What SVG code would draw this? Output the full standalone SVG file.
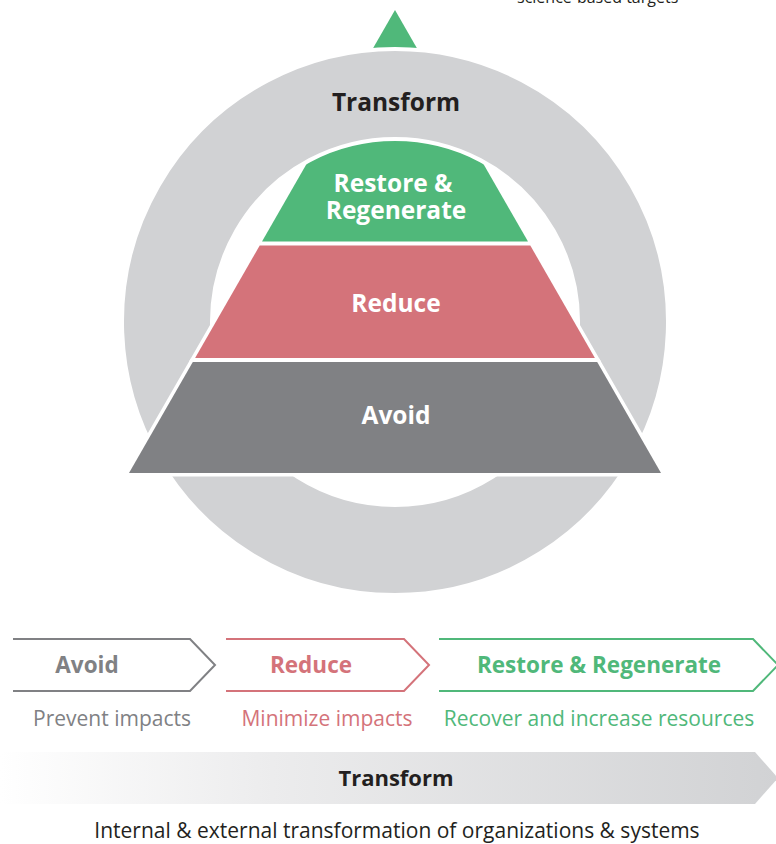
<svg xmlns="http://www.w3.org/2000/svg" width="776" height="844" viewBox="0 0 776 844">
<defs>
<style>
.t{font-family:"Open Sans","Noto Sans",sans-serif}
.b{font-weight:700}
.band{stroke:#fff;stroke-width:7;stroke-linejoin:miter;paint-order:stroke}
.chev{fill:none;stroke-width:2}
</style>
<linearGradient id="tg" x1="0" y1="0" x2="1" y2="0">
<stop offset="0" stop-color="#ffffff"/>
<stop offset="0.35" stop-color="#ececed"/>
<stop offset="1" stop-color="#d1d2d4"/>
</linearGradient>
</defs>
<rect width="776" height="844" fill="#fff"/>
<text class="t" x="517" y="3" font-size="16" fill="#231f20">science-based targets</text>
<g id="restore">
<polygon points="395,10 528,241.5 262,241.5" fill="#50b87a"/>
</g>
<g id="ring">
<path d="M395,49 A273,273 0 1 1 394.99,49 Z M395,139 A183,183 0 1 0 395.01,139 Z" fill="#d1d2d4" fill-rule="evenodd" stroke="#fff" stroke-width="4"/>
<text class="t b" x="396" y="111" font-size="24.5" text-anchor="middle" fill="#231f20">Transform</text>
</g>
<g id="reduce">
<polygon class="band" points="259.7,245.5 530.3,245.5 594.9,358 195.1,358" fill="#d4737a"/>
<text class="t b" x="396" y="312" font-size="24.5" text-anchor="middle" fill="#fff">Reduce</text>
</g>
<g id="avoid">
<polygon class="band" points="192.8,362 597.2,362 661,473 129,473" fill="#808184"/>
<text class="t b" x="396" y="424" font-size="24.5" text-anchor="middle" fill="#fff">Avoid</text>
</g>
<g id="restore-label">
<text class="t b" font-size="24.5" text-anchor="middle" fill="#fff"><tspan x="393" y="192">Restore &amp;</tspan><tspan x="396" y="219">Regenerate</tspan></text>
</g>
<g id="step-avoid">
<path class="chev" d="M13,639 H190 L215,665 L190,691 H13" stroke="#808184"/>
<text class="t b" x="87" y="673" font-size="22.5" text-anchor="middle" fill="#808184">Avoid</text>
<text class="t" x="112" y="726" font-size="21" text-anchor="middle" fill="#808184">Prevent impacts</text>
</g>
<g id="step-reduce">
<path class="chev" d="M226,639 H404 L429,665 L404,691 H226" stroke="#d4737a"/>
<text class="t b" x="311" y="673" font-size="22.5" text-anchor="middle" fill="#d4737a">Reduce</text>
<text class="t" x="327" y="726" font-size="21" text-anchor="middle" fill="#d4737a">Minimize impacts</text>
</g>
<g id="step-restore">
<path class="chev" d="M439,639 H753 L778,665 L753,691 H439" stroke="#50b87a"/>
<text class="t b" x="599" y="673" font-size="22.5" text-anchor="middle" fill="#50b87a">Restore &amp; Regenerate</text>
<text class="t" x="599" y="726" font-size="21" text-anchor="middle" fill="#50b87a">Recover and increase resources</text>
</g>
<g id="transform-bar">
<polygon points="0,752 755,752 778,778 755,804 0,804" fill="url(#tg)"/>
<text class="t b" x="396" y="786" font-size="22" text-anchor="middle" fill="#231f20">Transform</text>
<text class="t" x="397" y="838" font-size="21" text-anchor="middle" fill="#231f20">Internal &amp; external transformation of organizations &amp; systems</text>
</g>
</svg>
